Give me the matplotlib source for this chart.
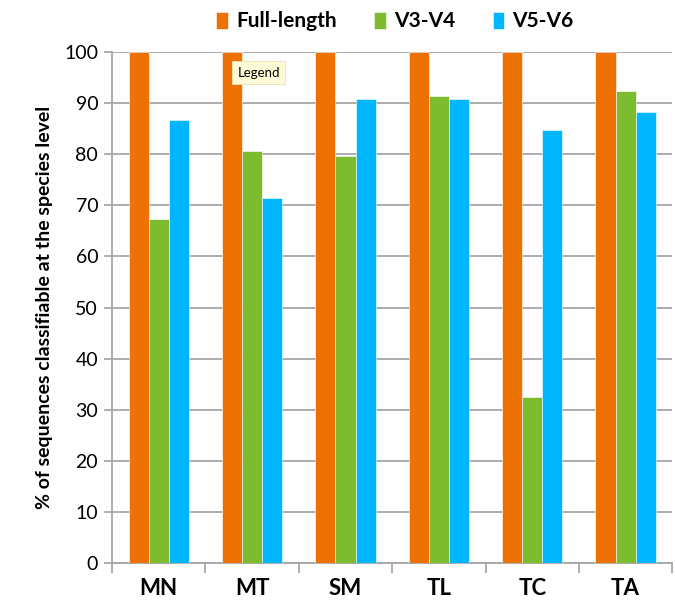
import matplotlib
matplotlib.use('Agg')
import matplotlib.pyplot as plt
import numpy as np

plt.rcParams['font.family'] = ['Lato', 'DejaVu Sans']

sites = ['MN', 'MT', 'SM', 'TL', 'TC', 'TA']
full_length = [100, 100, 100, 100, 100, 100]
v3_v4 = [67.3, 80.6, 79.6, 91.4, 32.4, 92.4]
v5_v6 = [86.7, 71.5, 90.9, 90.9, 84.8, 88.3]
series_names = ['Full-length', 'V3-V4', 'V5-V6']
colors = ['#EE7203', '#7DBB2F', '#00B6FF']

fig = plt.figure(figsize=(6.75, 6.11), dpi=100)
ax = fig.add_axes([0.166, 0.0786, 0.83, 0.836])

x = np.arange(len(sites))
w = 0.215
for i, (vals, name, c) in enumerate(zip([full_length, v3_v4, v5_v6], series_names, colors)):
    ax.bar(x + (i - 1) * w, vals, w, color=c, label=name, zorder=3,
           edgecolor='white', linewidth=0.4)

ax.set_xlim(-0.5, len(sites) - 0.5)
ax.set_ylim(0, 100)
ax.set_yticks(range(0, 101, 10))
ax.tick_params(axis='y', labelsize=14, length=6, color='#A6A6A6', width=1.3, pad=4)
ax.yaxis.grid(True, color='#A6A6A6', linewidth=1.3, zorder=0)

# category labels, ticks on category boundaries
ax.set_xticks(x)
ax.set_xticklabels(sites, fontsize=16, fontweight='bold')
ax.tick_params(axis='x', length=0, pad=11)
ax.set_xticks(np.arange(-0.5, len(sites)), minor=True)
ax.tick_params(axis='x', which='minor', length=7, color='#A6A6A6', width=1.3)

for s in ['top', 'right']:
    ax.spines[s].set_visible(False)
for s in ['left', 'bottom']:
    ax.spines[s].set_color('#A6A6A6')
    ax.spines[s].set_linewidth(1.3)

ax.set_ylabel('% of sequences classifiable at the species level', fontsize=14,
              fontweight='bold', labelpad=8)

leg = fig.legend(loc='upper center', bbox_to_anchor=(0.585, 1.012), ncol=3, frameon=False,
                 prop={'size': 15, 'weight': 'bold'}, handlelength=0.55, handleheight=0.9,
                 handletextpad=0.4, columnspacing=1.8)

# tooltip box left in the screenshot
fig.text(0.352, 0.881, 'Legend', fontsize=9.5, va='center', ha='left',
         bbox=dict(boxstyle='square,pad=0.4', facecolor='#FFFBD6', edgecolor='#E8E2B0',
                   linewidth=0.6))

fig.savefig('out.png', dpi=100)
